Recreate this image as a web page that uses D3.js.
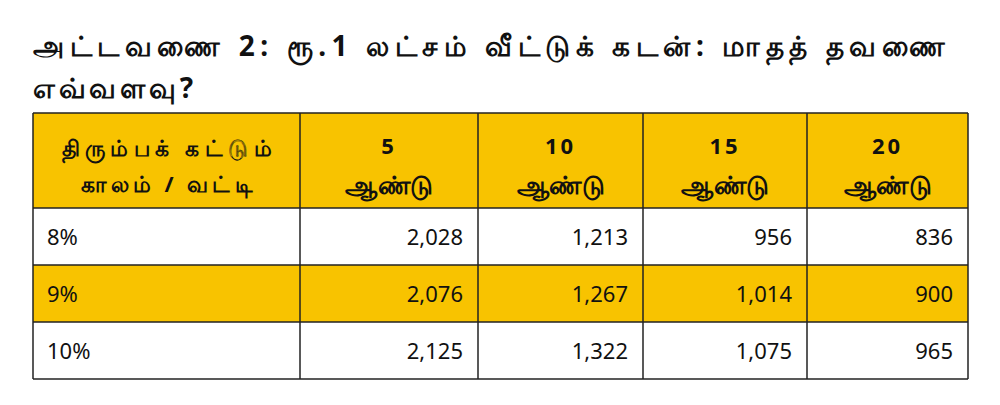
<!DOCTYPE html>
<html><head><meta charset="utf-8">
<script src="https://cdn.jsdelivr.net/npm/d3@7"></script>
<style>body{margin:0;background:#fff}svg{display:block;font-family:"Noto Sans","DejaVu Sans",sans-serif}</style>
</head><body><svg id="c" width="1000" height="405"></svg>
<script>
const titleLines = ["அட்டவணை 2: ரூ.1 லட்சம் வீட்டுக் கடன்: மாதத் தவணை", "எவ்வளவு?"];
const cornerLabel = ["திரும்பக் கட்டும்", "காலம் / வட்டி"];
const periods = ["5", "10", "15", "20"];
const periodUnit = "ஆண்டு";
const rates = ["8%", "9%", "10%"];
const emi8 = [2028, 1213, 956, 836];
const emi9 = [2076, 1267, 1014, 900];
const emi10 = [2125, 1322, 1075, 965];
const rows = [emi8, emi9, emi10];

const svg = d3.select("#c");
const yellow = "#f8c300";
const titleLen = [912, 160];
svg.selectAll("text.t").data(titleLines).join("text").attr("class","t")
  .attr("x",33).attr("y",(d,i)=>56+i*42).attr("font-size",28).attr("font-weight","bold").attr("fill","#111")
  .attr("textLength",(d,i)=>titleLen[i]).attr("lengthAdjust","spacing").text(d=>d);

const colEdges = [33,300,478,643,807,968];
const x0 = 33, x1 = 968;
const rowTop = {h:113, "8%":208, "9%":265, "10%":322};
const rowH = {h:95, "8%":57, "9%":57, "10%":57};
const fmt = d3.format(",");

const g = svg.append("g");
g.append("rect").attr("x",x0).attr("y",rowTop.h).attr("width",x1-x0).attr("height",rowH.h).attr("fill",yellow);
g.append("rect").attr("x",x0).attr("y",rowTop["9%"]).attr("width",x1-x0).attr("height",rowH["9%"]).attr("fill",yellow);
const hs = [113,208,265,322,379];
g.selectAll("line.h").data(hs).join("line").attr("x1",x0).attr("x2",x1).attr("y1",d=>d).attr("y2",d=>d).attr("stroke","#222").attr("stroke-width",1.5);
g.selectAll("line.v").data(colEdges).join("line").attr("y1",113).attr("y2",379).attr("x1",d=>d).attr("x2",d=>d).attr("stroke","#222").attr("stroke-width",1.5);

const cornerLen = [210, 172];
cornerLabel.forEach((t,i)=>g.append("text").attr("x",(colEdges[0]+colEdges[1])/2).attr("y",156+i*36).attr("text-anchor","middle").attr("font-size",22).attr("font-weight","bold").attr("fill","#111").attr("textLength",cornerLen[i]).attr("lengthAdjust","spacing").text(t));
periods.forEach((p,j)=>{
  const cx=(colEdges[j+1]+colEdges[j+2])/2;
  g.append("text").attr("x",cx).attr("y",154).attr("text-anchor","middle").attr("font-size",22).attr("font-weight","bold").attr("letter-spacing",3).attr("fill","#111").text(p);
  g.append("text").attr("x",cx).attr("y",194).attr("text-anchor","middle").attr("font-size",25).attr("font-weight","bold").attr("fill","#111").attr("textLength",88).attr("lengthAdjust","spacingAndGlyphs").text(periodUnit);
});
rates.forEach((r,i)=>{
  const ty=rowTop[r]+rowH[r]/2+8;
  g.append("text").attr("x",47).attr("y",ty).attr("font-size",22).attr("fill","#111").text(r);
  rows[i].forEach((v,j)=>g.append("text").attr("x",colEdges[j+2]-15).attr("y",ty).attr("text-anchor","end").attr("font-size",22).attr("fill","#111").text(fmt(v)));
});
</script></body></html>
